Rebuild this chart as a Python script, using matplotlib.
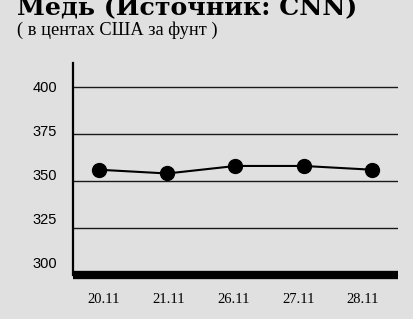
import matplotlib.pyplot as plt

# Veriler
dates = ['20.11', '21.11', '26.11', '27.11', '28.11']
prices = [356, 354, 358, 358, 356]
grid_values = [300, 325, 350, 375, 400]
tick_labels = ['300', '325', '350', '375', '400']

title = 'Медь (Источник: CNN)'
subtitle = '( в центах США за фунт )'

bg = '#e0e0e0'

fig = plt.figure(figsize=(4.14, 3.19), dpi=100, facecolor=bg)
ax = fig.add_axes([73 / 414, 44 / 319, 325 / 414, 212 / 319])
ax.set_facecolor(bg)

x = list(range(len(dates)))
ax.plot(x, prices, color='black', linewidth=1.5, marker='o', markersize=10, zorder=3)

# yatay çizgiler
ax.set_yticks(grid_values)
ax.yaxis.grid(True, color='#1a1a1a', linewidth=1)
ax.set_xticks([])
ax.tick_params(axis='y', length=0, labelleft=False)
ax.set_ylim(300, 412.77)
ax.set_xlim(-0.381, 4.381)

for s in ['top', 'right']:
    ax.spines[s].set_visible(False)
ax.spines['left'].set_linewidth(1.6)
ax.spines['bottom'].set_linewidth(6)
ax.spines['bottom'].set_capstyle('butt')
ax.spines['bottom'].set_zorder(4)

# etiketler biraz kaymış, ikincil eksenle yerleştir
sy = ax.secondary_yaxis('left', functions=(lambda y: 300 + (y - 306.915) / 0.9362,
                                           lambda v: 306.915 + (v - 300) * 0.9362))
sy.set_yticks(grid_values)
sy.set_yticklabels(tick_labels, family='Liberation Sans', fontsize=10.5)
sy.tick_params(length=0, pad=11.5)
sy.spines['left'].set_visible(False)

sx = ax.secondary_xaxis('bottom', functions=(lambda v: (v - 0.0733) / 0.9487,
                                             lambda j: 0.0733 + 0.9487 * j))
sx.set_xticks(x)
sx.set_xticklabels(dates, family='Liberation Serif', fontsize=10.5)
sx.tick_params(length=0, pad=13)
sx.spines['bottom'].set_visible(False)

# başlık yukarıda kesik, referansta da öyle
fig.text(17 / 414, 1 - 15 / 319, title, family='DejaVu Serif', fontweight='bold',
         fontsize=18.2, va='baseline', ha='left')
fig.text(17 / 414, 1 - 35 / 319, subtitle, family='Liberation Serif',
         fontsize=13.2, va='baseline', ha='left')

plt.savefig('out.png', dpi=100, facecolor=bg)
